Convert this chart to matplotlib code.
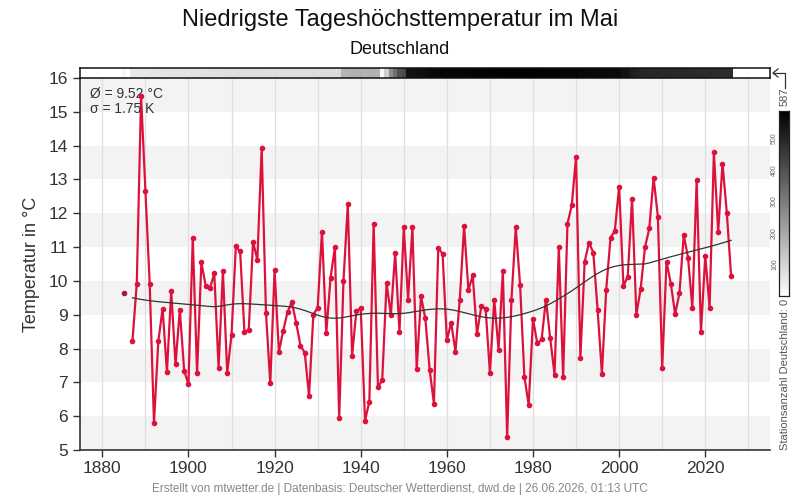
import numpy as np
import matplotlib
matplotlib.use("Agg")
import matplotlib.pyplot as plt
from matplotlib.colors import LinearSegmentedColormap
from matplotlib.lines import Line2D

plt.rcParams['font.family'] = ['Liberation Sans', 'DejaVu Sans']

# ---------------- data ----------------
first_year = 1885
temps = [
    9.63, np.nan, 8.23, 9.92, 15.46, 12.67, 9.92, 5.80, 8.21, 9.18,      # 1885-1894
    7.31, 9.69, 7.53, 9.15, 7.35, 6.94, 11.28, 7.28, 10.55, 9.86,        # 1895-1904
    9.79, 10.22, 7.43, 10.29, 7.28, 8.40, 11.02, 10.87, 8.49, 8.55,      # 1905-1914
    11.16, 10.62, 13.94, 9.06, 6.97, 10.31, 7.90, 8.53, 9.08, 9.37,      # 1915-1924
    8.77, 8.09, 7.88, 6.60, 9.00, 9.21, 11.46, 8.46, 10.10, 10.99,       # 1925-1934
    5.95, 10.01, 12.26, 7.79, 9.12, 9.19, 5.87, 6.43, 11.69, 6.85,       # 1935-1944
    7.08, 9.93, 9.00, 10.82, 8.50, 11.58, 9.45, 11.58, 7.40, 9.54,       # 1945-1954
    8.89, 7.38, 6.37, 10.96, 10.81, 8.24, 8.77, 7.91, 9.45, 11.62,       # 1955-1964
    9.73, 10.16, 8.43, 9.25, 9.18, 7.28, 9.45, 7.97, 10.28, 5.39,        # 1965-1974
    9.45, 11.58, 9.89, 7.17, 6.33, 8.87, 8.15, 8.27, 9.45, 8.30,         # 1975-1984
    7.23, 10.99, 7.16, 11.69, 12.23, 13.67, 7.72, 10.57, 11.13, 10.84,   # 1985-1994
    9.15, 7.26, 9.74, 11.28, 11.48, 12.79, 9.85, 10.13, 12.43, 9.00,     # 1995-2004
    9.77, 10.99, 11.55, 13.05, 11.90, 7.43, 10.57, 9.92, 9.02, 9.63,     # 2005-2014
    11.35, 10.69, 9.20, 12.97, 8.49, 10.75, 9.20, 13.80, 11.45, 13.47,   # 2015-2024
    12.02, 10.15,                                                        # 2025-2026
]
stations = [
    20, 0, 55, 55, 56, 57, 58, 58, 60, 60,                               # 1885-1894
    62, 62, 63, 64, 65, 66, 67, 68, 68, 70,                              # 1895-1904
    70, 72, 72, 73, 74, 75, 76, 76, 78, 78,                              # 1905-1914
    78, 78, 77, 76, 76, 76, 77, 78, 78, 79,                              # 1915-1924
    80, 80, 80, 80, 81, 81, 82, 82, 82, 82,                              # 1925-1934
    84, 170, 175, 180, 185, 180, 175, 180, 185, 178,                     # 1935-1944
    15, 110, 260, 330, 400, 420, 545, 548, 550, 552,                     # 1945-1954
    555, 565, 568, 570, 572, 572, 574, 575, 576, 575,                    # 1955-1964
    576, 578, 578, 580, 580, 582, 582, 583, 585, 585,                    # 1965-1974
    586, 586, 587, 587, 586, 585, 584, 583, 582, 580,                    # 1975-1984
    578, 576, 575, 574, 573, 572, 570, 570, 568, 566,                    # 1985-1994
    565, 565, 564, 563, 562, 560, 545, 540, 520, 515,                    # 1995-2004
    500, 498, 497, 496, 495, 495, 494, 493, 492, 492,                    # 2005-2014
    491, 490, 490, 489, 488, 488, 487, 486, 485, 485,                    # 2015-2024
    484, 483,                                                            # 2025-2026
]
mean_text = "Ø = 9.52 °C"
sigma_text = "σ = 1.75 K"
station_max = 587

years = np.arange(first_year, first_year + len(temps))
t = np.array(temps, dtype=float)
st = np.array(stations, dtype=float)

# LOESS trend (tricube, local linear) from 1887 on
mask = (years >= 1887) & ~np.isnan(t)
yx = years[mask].astype(float)
yv = t[mask]
span = 0.3
k = int(np.ceil(span * len(yx)))
trend = []
for x0 in yx:
    d = np.abs(yx - x0)
    h = np.sort(d)[k - 1]
    u = np.clip(d / h, 0, 1)
    w = (1 - u ** 3) ** 3
    X = np.vstack([np.ones_like(yx), yx - x0]).T
    Wm = np.diag(w)
    beta = np.linalg.solve(X.T @ Wm @ X, X.T @ Wm @ yv)
    trend.append(beta[0])
trend = np.array(trend)

# ---------------- figure ----------------
W_, H_ = 800, 500
fig = plt.figure(figsize=(8, 5), dpi=100)

def fx(px):
    return px / W_

def fy(py):
    return 1 - py / H_

L, R, T, B = 80, 770, 78, 450
ax = fig.add_axes([fx(L), fy(B), fx(R) - fx(L), fy(T) - fy(B)])
xmin, xmax = 1874.82, 2035.03
ax.set_xlim(xmin, xmax)
ax.set_ylim(5, 16)

for lo in range(5, 16, 2):
    ax.axhspan(lo, lo + 1, color='#f3f3f3', zorder=0, lw=0)
for xv in range(1880, 2031, 10):
    ax.axvline(xv, color='#dedede', lw=0.9, zorder=1)

red = '#dc123c'
ax.plot(years, t, color=red, lw=1.6, zorder=3, solid_joinstyle='round')
ax.plot(years[1:], t[1:], 'o', color=red, ms=3.0, zorder=4, mec=red)
ax.plot(years[:1], t[:1], 'o', color='#a8153a', ms=3.0, zorder=4, mec='#a8153a')
ax.plot(yx, trend, color='#333333', lw=0.9, zorder=5)

for s in ['top', 'right']:
    ax.spines[s].set_visible(False)
for s in ['left', 'bottom']:
    ax.spines[s].set_color('#333333')
    ax.spines[s].set_linewidth(1.2)

ax.set_xticks(range(1880, 2021, 20))
ax.set_yticks(range(5, 17))
ax.tick_params(axis='both', colors='#333333', labelsize=12.5, length=5, width=1, direction='out')
ax.tick_params(axis='x', pad=3)
ax.set_ylabel('Temperatur in °C', fontsize=13, color='#333333', labelpad=6)

ax.text(0.015, 0.975, mean_text, transform=ax.transAxes, fontsize=10, color='#333333', va='top', ha='left')
ax.text(0.015, 0.935, sigma_text, transform=ax.transAxes, fontsize=10, color='#333333', va='top', ha='left')

# station count bar
cmap = LinearSegmentedColormap.from_list('wb', ['#ffffff', '#000000'])
bax = fig.add_axes([fx(L), fy(T), fx(R) - fx(L), fy(68) - fy(T)])
edges = np.append(years - 0.5, years[-1] + 0.5)
bax.pcolormesh(edges, [0, 1], st[np.newaxis, :], cmap=cmap, vmin=0, vmax=station_max)
bax.set_xlim(xmin, xmax)
bax.set_ylim(0, 1)
bax.set_xticks([])
bax.set_yticks([])
for s in bax.spines.values():
    s.set_color('#111111')
    s.set_linewidth(1.1)

# colorbar
cax = fig.add_axes([fx(779), fy(296), fx(789) - fx(779), fy(111) - fy(296)])
grad = np.linspace(0, station_max, 256)[:, np.newaxis]
cax.imshow(grad, aspect='auto', cmap=cmap, origin='lower', extent=[0, 1, 0, station_max], vmin=0, vmax=station_max)
cax.set_xticks([])
cax.set_yticks([])
for s in cax.spines.values():
    s.set_color('#222222')
    s.set_linewidth(0.9)
for v in [100, 200, 300, 400, 500]:
    cax.text(-0.45, v, str(v), rotation=90, fontsize=5, color='#666666', ha='center', va='center',
             transform=cax.get_yaxis_transform())

fig.text(fx(785), fy(97), str(station_max), rotation=90, fontsize=8, color='#555555', ha='center', va='center')
fig.text(fx(785), fy(299), 'Stationsanzahl Deutschland: 0', rotation=90, fontsize=8, color='#555555',
         ha='center', va='top')
fig.add_artist(Line2D([fx(778), fx(773), fx(778)], [fy(69), fy(73), fy(77)], transform=fig.transFigure,
                      color='#333333', lw=0.9))
fig.add_artist(Line2D([fx(773), fx(785), fx(785)], [fy(73), fy(73), fy(88)], transform=fig.transFigure,
                      color='#333333', lw=0.9))

fig.text(0.5, fy(20), 'Niedrigste Tageshöchsttemperatur im Mai', fontsize=17, ha='center', va='center', color='#111111')
fig.text(0.5, fy(50), 'Deutschland', fontsize=13, ha='center', va='center', color='#111111')
fig.text(0.5, fy(489), 'Erstellt von mtwetter.de | Datenbasis: Deutscher Wetterdienst, dwd.de | 26.06.2026, 01:13 UTC',
         fontsize=8.5, ha='center', va='center', color='#888888')

fig.savefig('out.png', dpi=100)
